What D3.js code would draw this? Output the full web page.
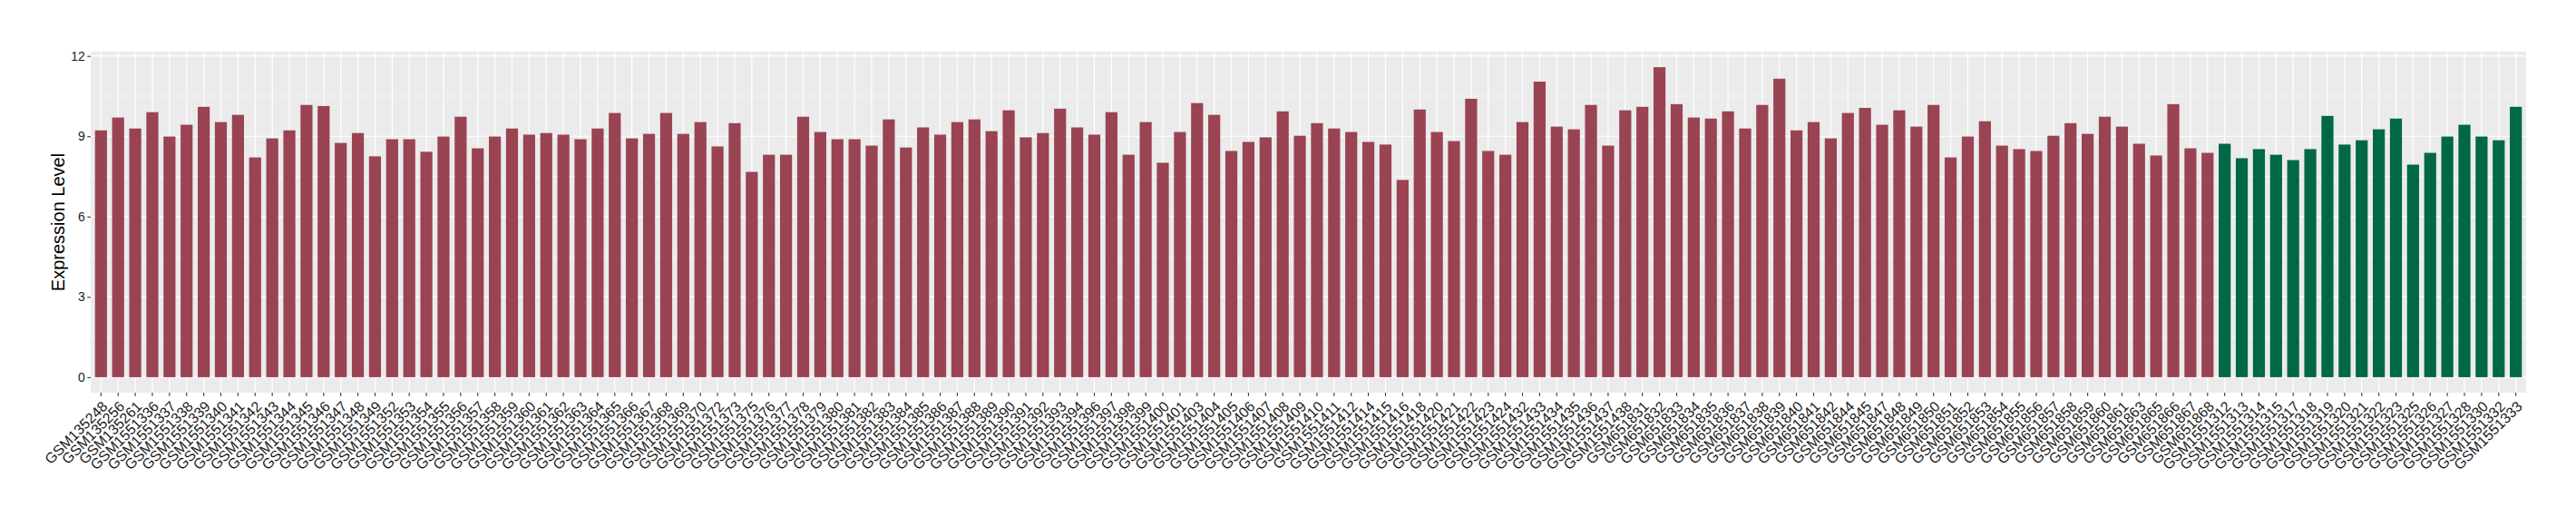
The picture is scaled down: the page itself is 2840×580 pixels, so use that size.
<!DOCTYPE html>
<html>
<head>
<meta charset="utf-8">
<script src="https://cdn.jsdelivr.net/npm/d3@7"></script>
<style>
  html, body { margin: 0; padding: 0; background: #ffffff; }
  svg { display: block; font-family: "Liberation Sans", Arial, Helvetica, sans-serif; }
</style>
</head>
<body>
<div id="chart"></div>
<script>
// ---- Data ----
const redSamples = [
  "GSM135248","GSM135256","GSM135261",
  "GSM1551336","GSM1551337","GSM1551338","GSM1551339","GSM1551340","GSM1551341","GSM1551342",
  "GSM1551343","GSM1551344","GSM1551345","GSM1551346","GSM1551347","GSM1551348","GSM1551349",
  "GSM1551352","GSM1551353","GSM1551354","GSM1551355","GSM1551356","GSM1551357","GSM1551358",
  "GSM1551359","GSM1551360","GSM1551361","GSM1551362","GSM1551363","GSM1551364","GSM1551365",
  "GSM1551366","GSM1551367","GSM1551368","GSM1551369","GSM1551370","GSM1551372","GSM1551373",
  "GSM1551375","GSM1551376","GSM1551377","GSM1551378","GSM1551379","GSM1551380","GSM1551381",
  "GSM1551382","GSM1551383","GSM1551384","GSM1551385","GSM1551386","GSM1551387","GSM1551388",
  "GSM1551389","GSM1551390","GSM1551391","GSM1551392","GSM1551393","GSM1551394","GSM1551396",
  "GSM1551397","GSM1551398","GSM1551399","GSM1551400","GSM1551401","GSM1551403","GSM1551404",
  "GSM1551405","GSM1551406","GSM1551407","GSM1551408","GSM1551409","GSM1551410","GSM1551411",
  "GSM1551412","GSM1551414","GSM1551415","GSM1551416","GSM1551418","GSM1551420","GSM1551421",
  "GSM1551422","GSM1551423","GSM1551424","GSM1551432","GSM1551433","GSM1551434","GSM1551435",
  "GSM1551436","GSM1551437","GSM1551438",
  "GSM651831","GSM651832","GSM651833","GSM651834","GSM651835","GSM651836","GSM651837",
  "GSM651838","GSM651839","GSM651840","GSM651841","GSM651842","GSM651844","GSM651845",
  "GSM651847","GSM651848","GSM651849","GSM651850","GSM651851","GSM651852","GSM651853",
  "GSM651854","GSM651855","GSM651856","GSM651857","GSM651858","GSM651859","GSM651860",
  "GSM651861","GSM651863","GSM651865","GSM651866","GSM651867","GSM651868"
];
const redValues = [
  9.22, 9.70, 9.29, 9.90, 8.99, 9.43, 10.10, 9.53, 9.80, 8.21,
  8.92, 9.22, 10.17, 10.13, 8.75, 9.12, 8.25, 8.89, 8.89, 8.42,
  8.99, 9.73, 8.55, 8.99, 9.29, 9.06, 9.12, 9.06, 8.89, 9.29,
  9.87, 8.92, 9.09, 9.87, 9.09, 9.53, 8.62, 9.49, 7.67, 8.31,
  8.31, 9.73, 9.16, 8.89, 8.89, 8.65, 9.63, 8.58, 9.33, 9.06,
  9.53, 9.63, 9.19, 9.97, 8.96, 9.12, 10.03, 9.33, 9.06, 9.90,
  8.31, 9.53, 8.01, 9.16, 10.24, 9.80, 8.45, 8.79, 8.96, 9.93,
  9.02, 9.49, 9.29, 9.16, 8.79, 8.69, 7.37, 10.00, 9.16, 8.82,
  10.40, 8.45, 8.31, 9.53, 11.04, 9.36, 9.26, 10.17, 8.65, 9.97,
  10.10, 11.58, 10.20, 9.70, 9.66, 9.93, 9.29, 10.17, 11.15, 9.22,
  9.53, 8.92, 9.87, 10.06, 9.43, 9.97, 9.36, 10.17, 8.21, 8.99,
  9.56, 8.65, 8.52, 8.45, 9.02, 9.49, 9.09, 9.73, 9.36, 8.72,
  8.28, 10.20, 8.55, 8.38
];
const greenSamples = [
  "GSM1551312","GSM1551313","GSM1551314","GSM1551315","GSM1551317","GSM1551318",
  "GSM1551319","GSM1551320","GSM1551321","GSM1551322","GSM1551323","GSM1551325",
  "GSM1551326","GSM1551327","GSM1551328","GSM1551330","GSM1551332","GSM1551333"
];
const greenValues = [
  8.72, 8.18, 8.52, 8.31, 8.11, 8.52, 9.76, 8.69, 8.85,
  9.26, 9.66, 7.94, 8.38, 8.99, 9.43, 8.99, 8.85, 10.10
];
const yTicks = [0, 3, 6, 9, 12];
const yMinorTicks = [1.5, 4.5, 7.5, 10.5];
const yTitle = "Expression Level";
const groupColors = { red: "#9A4352", green: "#006846" };

// ---- Build table ----
const data = redSamples.map((s, i) => ({ sample: s, value: redValues[i], group: "red" }))
  .concat(greenSamples.map((s, i) => ({ sample: s, value: greenValues[i], group: "green" })));

// ---- Layout ----
const W = 2840, H = 580;
const panel = { left: 100, top: 57, right: 2785, bottom: 433 };

const svg = d3.select("#chart").append("svg")
  .attr("width", W).attr("height", H)
  .attr("viewBox", `0 0 ${W} ${H}`);
svg.append("rect").attr("width", W).attr("height", H).attr("fill", "#ffffff");

const x = d3.scaleBand()
  .domain(data.map(d => d.sample))
  .range([panel.left, panel.right])
  .paddingInner(0.3)
  .paddingOuter(0.25);

const maxV = d3.max(data, d => d.value);
const pad = maxV * 0.05;
const y = d3.scaleLinear()
  .domain([-pad, maxV + pad])
  .range([panel.bottom, panel.top]);

// Panel background
svg.append("rect")
  .attr("x", panel.left).attr("y", panel.top)
  .attr("width", panel.right - panel.left)
  .attr("height", panel.bottom - panel.top)
  .attr("fill", "#EBEBEB");

// Minor y grid
svg.append("g").selectAll("line").data(yMinorTicks).join("line")
  .attr("x1", panel.left).attr("x2", panel.right)
  .attr("y1", d => y(d)).attr("y2", d => y(d))
  .attr("stroke", "#ffffff").attr("stroke-width", 0.6);

// Major y grid
svg.append("g").selectAll("line").data(yTicks).join("line")
  .attr("x1", panel.left).attr("x2", panel.right)
  .attr("y1", d => y(d)).attr("y2", d => y(d))
  .attr("stroke", "#ffffff").attr("stroke-width", 1.2);

// x grid
svg.append("g").selectAll("line").data(data).join("line")
  .attr("x1", d => x(d.sample) + x.bandwidth() / 2)
  .attr("x2", d => x(d.sample) + x.bandwidth() / 2)
  .attr("y1", panel.top).attr("y2", panel.bottom)
  .attr("stroke", "#ffffff").attr("stroke-width", 1.2);

// Bars
svg.append("g").selectAll("rect").data(data).join("rect")
  .attr("x", d => x(d.sample))
  .attr("width", x.bandwidth())
  .attr("y", d => y(d.value))
  .attr("height", d => y(0) - y(d.value))
  .attr("fill", d => groupColors[d.group]);

// Y axis
const yAxis = d3.axisLeft(y).tickValues(yTicks).tickSize(3.7).tickPadding(2.5).tickFormat(d3.format("d"));
const gy = svg.append("g").attr("transform", `translate(${panel.left},0)`).call(yAxis);
gy.select(".domain").remove();
gy.selectAll(".tick line").attr("stroke", "#333333").attr("stroke-width", 1.1);
gy.selectAll(".tick text").attr("fill", "#1a1a1a").attr("font-size", 14)
  .attr("font-family", "'Liberation Sans', Arial, sans-serif");

// X axis
const xAxis = d3.axisBottom(x).tickSize(3.7).tickPadding(0);
const gx = svg.append("g").attr("transform", `translate(0,${panel.bottom})`).call(xAxis);
gx.select(".domain").remove();
gx.selectAll(".tick line").attr("stroke", "#333333").attr("stroke-width", 1.1);
gx.selectAll(".tick text")
  .attr("fill", "#1a1a1a")
  .attr("font-size", 16)
  .attr("font-family", "'Liberation Sans', Arial, sans-serif")
  .attr("text-anchor", "end")
  .attr("y", 0).attr("x", 0)
  .attr("dy", "0.72em")
  .attr("transform", "translate(0,8) rotate(-45)");

// Y title
svg.append("text")
  .attr("transform", `translate(71,${(panel.top + panel.bottom) / 2}) rotate(-90)`)
  .attr("text-anchor", "middle")
  .attr("font-size", 20)
  .attr("fill", "#000000")
  .text(yTitle);
</script>
</body>
</html>
